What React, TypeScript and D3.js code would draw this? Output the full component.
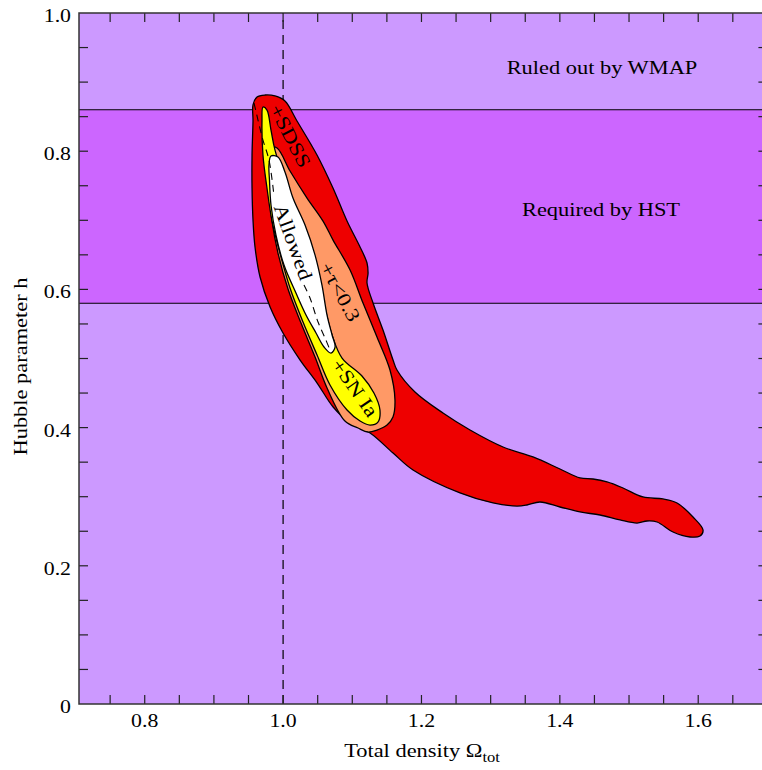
import React from 'react'
import * as d3 from 'd3'

// Omega_tot, h  contour outlines
const sdss: [number, number][] = [
  [0.9565, 0.8669], [0.9623, 0.8784], [0.9738, 0.8813], [0.9883, 0.8799], [1.0027, 0.8727],
  [1.0201, 0.8437], [1.049, 0.7945], [1.0721, 0.7467], [1.0924, 0.699], [1.1112, 0.6614],
  [1.1213, 0.6382], [1.1228, 0.6237], [1.1213, 0.6093], [1.13, 0.5803], [1.1444, 0.5412],
  [1.1589, 0.4978], [1.1646, 0.4833], [1.1906, 0.4515], [1.2311, 0.4211], [1.2702, 0.3965],
  [1.3179, 0.3719], [1.3612, 0.3575], [1.4002, 0.3401], [1.4291, 0.3271], [1.4479, 0.3256],
  [1.4682, 0.3213], [1.4913, 0.3126], [1.5202, 0.2996], [1.5491, 0.2967], [1.5694, 0.2909],
  [1.5925, 0.2706], [1.607, 0.2518], [1.6026, 0.2431], [1.5882, 0.2417], [1.5636, 0.2489],
  [1.5405, 0.2634], [1.526, 0.2648], [1.5116, 0.2619], [1.487, 0.2663], [1.4581, 0.2735],
  [1.4291, 0.2779], [1.4002, 0.2851], [1.3713, 0.2923], [1.3525, 0.288], [1.338, 0.2865],
  [1.3034, 0.2909], [1.2557, 0.3054], [1.1878, 0.3386], [1.1589, 0.3632], [1.1257, 0.3922],
  [1.0968, 0.4067], [1.0723, 0.4298], [1.0492, 0.4645], [1.0246, 0.4978], [0.9999, 0.5369],
  [0.9812, 0.5745], [0.9667, 0.6179], [0.9594, 0.6614], [0.9565, 0.7004], [0.9551, 0.7467],
  [0.9551, 0.7945], [0.9565, 0.8437]
]

const tau: [number, number][] = [
  [0.9782, 0.8074], [0.9912, 0.8045], [1.01, 0.7713], [1.0346, 0.7322], [1.0577, 0.6989],
  [1.0722, 0.6714], [1.0968, 0.628], [1.1155, 0.5802], [1.1357, 0.5311], [1.1545, 0.4833],
  [1.1617, 0.4399], [1.1588, 0.4153], [1.1502, 0.4037], [1.1357, 0.3965], [1.1227, 0.3936],
  [1.1083, 0.3994], [1.0894, 0.4095], [1.0635, 0.4573], [1.0462, 0.5021], [1.0259, 0.5513],
  [1.0071, 0.6005], [0.9926, 0.6526], [0.984, 0.6989], [0.9796, 0.7467], [0.9767, 0.7872]
]

const snIa: [number, number][] = [
  [0.9709, 0.8639], [0.9767, 0.8595], [0.9825, 0.8306], [0.9883, 0.8016], [1.0071, 0.7438],
  [1.0244, 0.6931], [1.0418, 0.6396], [1.0577, 0.5846], [1.0708, 0.534], [1.0852, 0.5006],
  [1.114, 0.4746], [1.1313, 0.45], [1.14, 0.4254], [1.1371, 0.408], [1.1256, 0.4037],
  [1.1112, 0.4095], [1.0924, 0.4254], [1.0678, 0.4616], [1.0491, 0.505], [1.0288, 0.5528],
  [1.01, 0.602], [0.9955, 0.6526], [0.984, 0.6989], [0.9767, 0.7467], [0.9709, 0.7944],
  [0.9695, 0.8436]
]

const allowed: [number, number][] = [
  [0.9825, 0.793], [0.9926, 0.7915], [1.0027, 0.7698], [1.0143, 0.7322], [1.0317, 0.6931],
  [1.0462, 0.6497], [1.0562, 0.6063], [1.0635, 0.5629], [1.0708, 0.534], [1.0751, 0.5166],
  [1.0693, 0.5079], [1.0592, 0.5166], [1.0476, 0.5369], [1.0331, 0.5629], [1.0186, 0.5947],
  [1.0013, 0.6352], [0.9897, 0.6786], [0.9825, 0.7221], [0.9803, 0.7582], [0.9796, 0.7799]
]

const dashA: [number, number][] = [[0.958, 0.8697], [0.9637, 0.8451], [0.9709, 0.8161], [0.9796, 0.7872], [0.9869, 0.7351]]
const dashB: [number, number][] = [[1.0302, 0.6063], [1.0389, 0.5875], [1.0505, 0.5528], [1.0606, 0.5296], [1.0679, 0.5122]]

const hstBand = [0.58, 0.86]
const xTickLabels = [0.8, 1.0, 1.2, 1.4, 1.6]
const yTickLabels = [0, 0.2, 0.4, 0.6, 0.8, 1.0]

// label: text, omega, h, angle
const labels: [string, number, number, number][] = [
  ['+SDSS', 1.01, 0.8219, 63],
  ['+\u03c4<0.3', 1.0822, 0.5962, 62],
  ['+SN Ia', 1.1035, 0.4573, 55],
  ['Allowed', 1.0143, 0.6685, 70]
]

const W = 762
const H = 770
const font = '"Liberation Serif", "Times New Roman", serif'
const SX = 1.18 // the original type is set a bit wide

function Txt(props: {x: number, y: number, rot?: number, anchor?: string, size?: number, mid?: boolean, children: any}) {
  const {x, y, rot = 0, anchor = 'start', size = 19, mid = false, children} = props
  return (
    <g transform={`translate(${x},${y}) rotate(${rot}) scale(${SX},1)`}>
      <text textAnchor={anchor} fontSize={size} dominantBaseline={mid ? 'central' : undefined} fill="#000">
        {children}
      </text>
    </g>
  )
}

export default function App() {
  const x = d3.scaleLinear().domain([0.705, 1.7]).range([79, 767.4])
  const y = d3.scaleLinear().domain([0, 1]).range([704, 13])
  const [x0, x1] = x.range()
  const [y0, y1] = y.range()

  const area = d3.line<[number, number]>()
    .x(d => x(d[0]))
    .y(d => y(d[1]))
    .curve(d3.curveCatmullRomClosed.alpha(0.5))
  const open = d3.line<[number, number]>()
    .x(d => x(d[0]))
    .y(d => y(d[1]))
    .curve(d3.curveCatmullRom.alpha(0.5))

  const xMinor = d3.range(0.75, 1.7, 0.05)
  const yMinor = d3.range(0.05, 1.0, 0.05)
  const tl = 9

  return (
    <svg width={W} height={H} style={{position: 'absolute', left: 0, top: 0}} fontFamily={font}>
      <defs>
        <clipPath id="plot">
          <rect x={x0} y={y1} width={x1 - x0} height={y0 - y1} />
        </clipPath>
      </defs>
      <rect x={x0} y={y1} width={x1 - x0} height={y0 - y1} fill="#cc99ff" />
      <rect x={x0} y={y(hstBand[1])} width={x1 - x0} height={y(hstBand[0]) - y(hstBand[1])} fill="#cc66ff" />
      {hstBand.map(b => (
        <line key={b} x1={x0} x2={x1} y1={y(b)} y2={y(b)} stroke="#000" strokeWidth={1.1} />
      ))}
      <line x1={x(1)} x2={x(1)} y1={y0} y2={y1} stroke="#000" strokeWidth={1.2} strokeDasharray="9,6" />

      <g clipPath="url(#plot)" stroke="#000" strokeWidth={1.3} strokeLinejoin="round">
        <path d={area(sdss) || ''} fill="#ee0000" />
        <path d={area(tau) || ''} fill="#ff9966" />
        <path d={area(snIa) || ''} fill="#ffff00" />
        <path d={area(allowed) || ''} fill="#ffffff" />
        <path d={open(dashA) || ''} fill="none" strokeWidth={1.1} strokeDasharray="7,5" />
        <path d={open(dashB) || ''} fill="none" strokeWidth={1.1} strokeDasharray="7,5" />
      </g>

      {labels.map(([t, ox, oh, a]) => (
        <Txt key={t} x={x(ox)} y={y(oh)} rot={a} anchor="middle" size={19.5} mid>{t}</Txt>
      ))}

      <Txt x={602} y={74} anchor="middle" size={19}>Ruled out by WMAP</Txt>
      <Txt x={601} y={216} anchor="middle" size={19}>Required by HST</Txt>

      {/* ticks on all sides, pointing in */}
      <g stroke="#222" strokeWidth={1.2}>
        {xMinor.map(v => (
          <g key={'x' + v}>
            <line x1={x(v)} x2={x(v)} y1={y0} y2={y0 - tl} />
            <line x1={x(v)} x2={x(v)} y1={y1} y2={y1 + tl} />
          </g>
        ))}
        {yMinor.map(v => (
          <g key={'y' + v}>
            <line x1={x0} x2={x0 + tl} y1={y(v)} y2={y(v)} />
            <line x1={x1} x2={x1 - tl} y1={y(v)} y2={y(v)} />
          </g>
        ))}
      </g>
      <rect x={x0} y={y1} width={x1 - x0} height={y0 - y1} fill="none" stroke="#333" strokeWidth={1.5} />

      {xTickLabels.map(v => (
        <Txt key={v} x={x(v)} y={y0 + 23} anchor="middle" size={18.5}>{d3.format('.1f')(v)}</Txt>
      ))}
      {yTickLabels.map(v => (
        <Txt key={v} x={x0 - 8} y={y(v) + 9} anchor="end" size={18.5}>{v === 0 ? '0' : d3.format('.1f')(v)}</Txt>
      ))}

      <Txt x={422} y={757} anchor="middle" size={19}>
        Total density {'\u03a9'}<tspan fontSize={14} dy={5}>tot</tspan>
      </Txt>
      <Txt x={27} y={(y0 + y1) / 2 + 8} rot={-90} anchor="middle" size={19}>
        Hubble parameter h
      </Txt>
    </svg>
  )
}
